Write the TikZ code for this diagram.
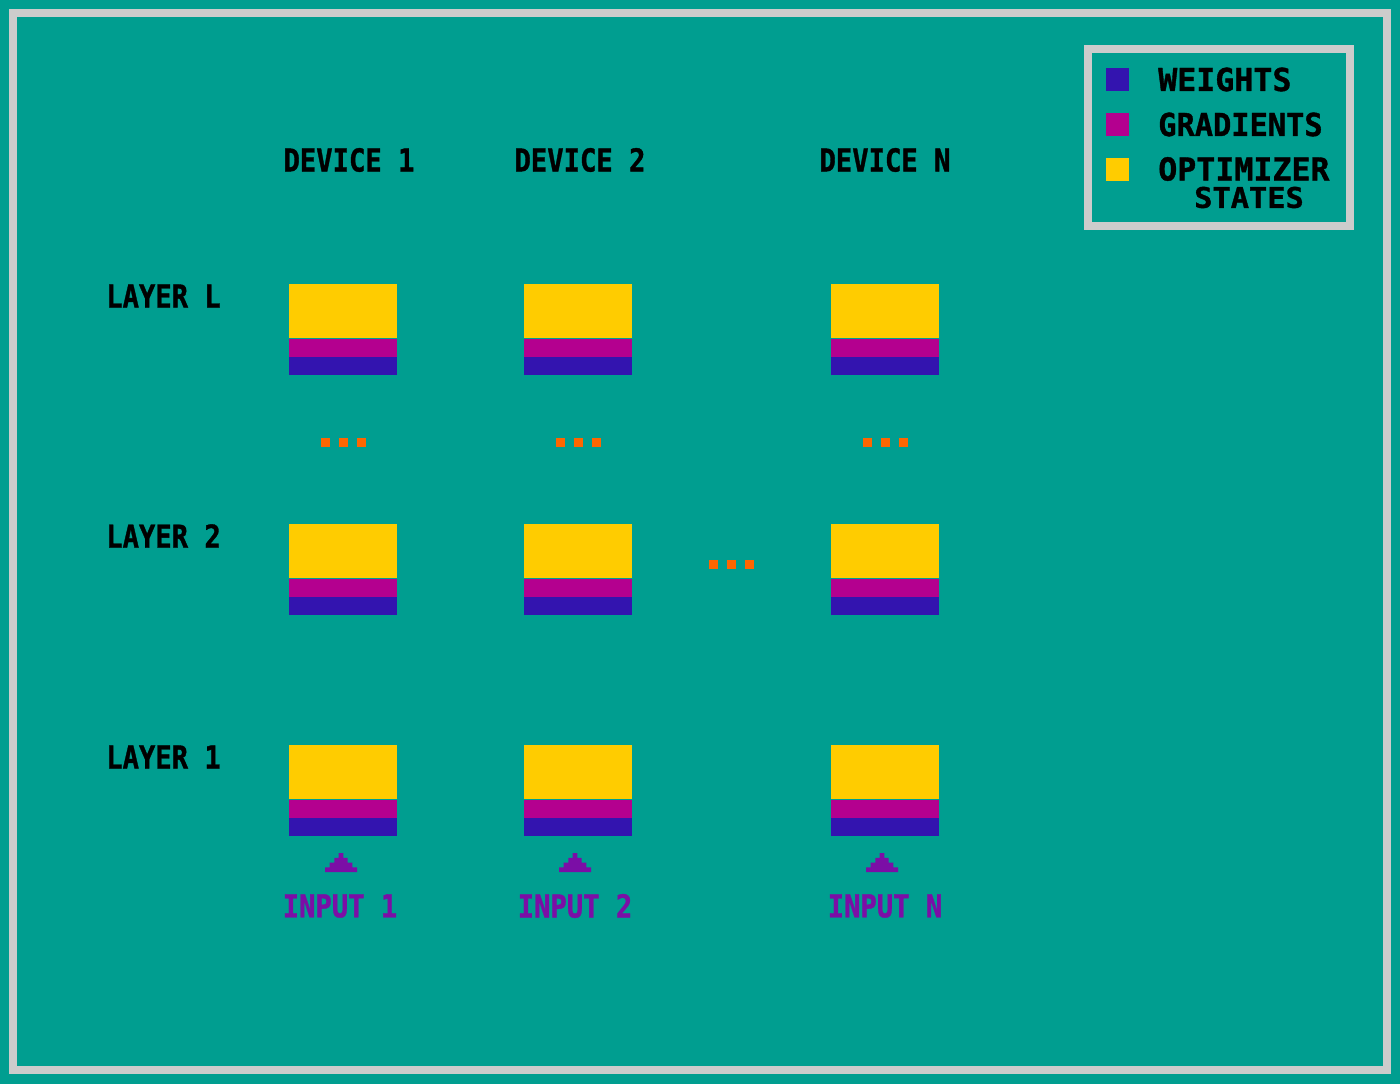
\documentclass[tikz,border=0pt]{standalone}
\usepackage{fontspec}
\usepackage{graphicx}
\setmonofont{DejaVu Sans Mono}[BoldFeatures={FakeBold=1.2}]
\definecolor{bgteal}{HTML}{009E90}
\definecolor{framegrey}{HTML}{CCCCCC}
\definecolor{ycol}{HTML}{FFCC00}
\definecolor{mcol}{HTML}{B4008F}
\definecolor{bcol}{HTML}{3314AF}
\definecolor{ocol}{HTML}{FF6600}
\definecolor{pcol}{HTML}{7B0EA6}
\newcommand{\pixtxt}[3][0.86]{\scalebox{#1}[#2]{\ttfamily\bfseries\fontsize{23.7}{28}\selectfont #3}}
\tikzset{
  lbl/.style={inner sep=0pt, text=black},
  inlbl/.style={inner sep=0pt, text=pcol},
  ypart/.style={fill=ycol, draw=none, inner sep=0pt, minimum width=81pt, minimum height=40.5pt, anchor=north west},
  mpart/.style={fill=mcol, draw=none, inner sep=0pt, minimum width=81pt, minimum height=13.5pt, anchor=north west},
  bpart/.style={fill=bcol, draw=none, inner sep=0pt, minimum width=81pt, minimum height=13.5pt, anchor=north west},
  dotsq/.style={fill=ocol, draw=none, inner sep=0pt, minimum size=6.75pt},
  legsq/.style={draw=none, inner sep=0pt, minimum size=17.25pt, anchor=north west},
}
\begin{document}
\begin{tikzpicture}[x=0.75pt, y=-0.75pt]
\useasboundingbox (0,0) rectangle (1400,1084);
\fill[bgteal] (0,0) rectangle (1400,1084);
\draw[framegrey, line width=6pt] (13,13) rectangle (1387,1070);
% legend
\draw[framegrey, line width=6pt] (1088,49) rectangle (1350,226);
\node[legsq, fill=bcol] (lw) at (1106,68) {};
\node[legsq, fill=mcol] (lg) at (1106,113) {};
\node[legsq, fill=ycol] (lo) at (1106,158) {};
\node[lbl, anchor=west] (tw) at (1158,79.5) {\pixtxt[1]{1}{WEIGHTS}};
\node[lbl, anchor=west] (tg) at (1158,124.5) {\pixtxt[0.96]{1}{GRADIENTS}};
\node[lbl, anchor=west] (to) at (1158,169) {\pixtxt[1]{1}{OPTIMIZER}};
\node[lbl] (ts) at (1249,197.5) {\pixtxt[0.96]{0.9}{STATES}};
% device labels
\node[lbl] (d1) at (349,160) {\pixtxt{1}{DEVICE 1}};
\node[lbl] (d2) at (580,160) {\pixtxt{1}{DEVICE 2}};
\node[lbl] (dn) at (885,160) {\pixtxt{1}{DEVICE N}};
% layer labels
\node[lbl, anchor=west] (lL) at (106,296) {\pixtxt{1}{LAYER L}};
\node[lbl, anchor=west] (l2) at (106,536) {\pixtxt{1}{LAYER 2}};
\node[lbl, anchor=west] (l1) at (106,757) {\pixtxt{1}{LAYER 1}};
% blocks
\foreach \c/\x in {1/289, 2/524, n/831}{
  \foreach \r/\y in {L/284, 2/524, 1/745}{
    \node[ypart] (y\c\r) at (\x,\y) {};
    \node[mpart] (m\c\r) at (y\c\r.south west) {};
    \node[bpart] (b\c\r) at (m\c\r.south west) {};
  }
}
% vertical ellipsis dots
\foreach \c/\x in {1/343, 2/578, n/885}{
  \node[dotsq] (dA\c) at (\x-18,442.5) {};
  \node[dotsq] (dB\c) at (\x,442.5) {};
  \node[dotsq] (dC\c) at (\x+18,442.5) {};
}
% horizontal ellipsis dots
\node[dotsq] (hA) at (713.5,564.5) {};
\node[dotsq] (hB) at (731.5,564.5) {};
\node[dotsq] (hC) at (749.5,564.5) {};
% inputs
\foreach \c/\x/\t/\ax in {1/340/INPUT 1/341, 2/575/INPUT 2/575, n/885/INPUT N/882}{
  \node[inlbl] (in\c) at (\x,906) {\pixtxt{1}{\t}};
  \coordinate (ar\c) at (\ax,872);
  \fill[pcol] (ar\c) ++(-16,0) -- ++(0,-4.75) -- ++(4.7,0) -- ++(0,-4.75) -- ++(4.6,0) -- ++(0,-4.75) -- ++(4.4,0) -- ++(0,-4.75)
     -- ++(4.6,0) -- ++(0,4.75) -- ++(4.4,0) -- ++(0,4.75) -- ++(4.6,0) -- ++(0,4.75) -- ++(4.7,0) -- ++(0,4.75) -- cycle;
}
\end{tikzpicture}
\end{document}
